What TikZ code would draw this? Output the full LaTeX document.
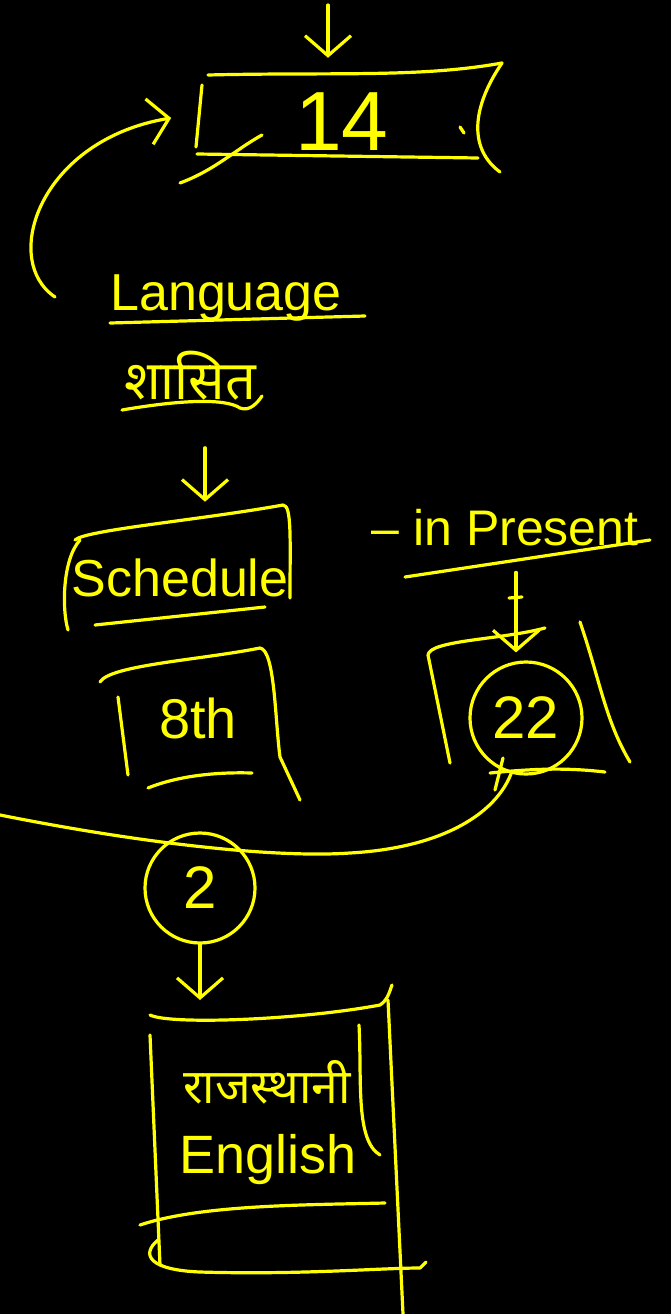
\documentclass[tikz,border=0pt]{standalone}
\usepackage{fontspec}
\setmainfont{Liberation Sans}
\newfontfamily\hindifont[Script=Devanagari]{Noto Sans}
\usetikzlibrary{arrows.meta}
\usetikzlibrary{positioning}
\definecolor{chalk}{RGB}{255,255,0}

\tikzset{
    ink/.style={draw=chalk, line width=3.2, line cap=round, line join=round},
    hand/.style={text=chalk, inner sep=2, font=\fontsize{50}{54}\selectfont},
    ring/.style={hand, draw=chalk, line width=3.2, circle},
}

\begin{document}
\begin{tikzpicture}[x=1pt, y=-1pt, >={Straight Barb[length=20, width=46]}]
    \fill[black] (0,0) rectangle (671,1314);
    \useasboundingbox (0,0) rectangle (671,1314);

    \node[minimum width=300, minimum height=84] (box14) at (345,114) {};
    \node[hand, font=\fontsize{84}{88}\selectfont] (fourteen) at (342,122) {14};
    \node[hand, font=\fontsize{52}{56}\selectfont] (language) at (226,298) {Language};
    \node[hand, font=\hindifont\fontsize{54}{58}\selectfont] (shasit) at (190,376) {शासित};
    \node[hand, font=\fontsize{52}{56}\selectfont] (schedule) at (180,578) {Schedule};
    \node[hand] (present) at (505,528) {– in Present};
    \node[hand, font=\fontsize{56}{60}\selectfont] (eighth) at (198,718) {8th};
    \node[ring, font=\fontsize{60}{64}\selectfont, minimum size=112] (twentytwo) at (526,718) {22};
    \node[ring, font=\fontsize{60}{64}\selectfont, minimum size=110] (two) at (200,888) {2};
    \node[hand, font=\hindifont\fontsize{48}{52}\selectfont] (rajasthani) at (267,1082) {राजस्थानी};
    \node[hand, font=\fontsize{54}{58}\selectfont] (english) at (268,1160) {English};

    \coordinate (topin) at (328,5);
    \coordinate (loopstart) at (55,297);
    \coordinate (leftend) at (0,815);
    \coordinate (boxtop) at (0,1000);

    % box round 14
    \draw[ink] (208,75) .. controls (330,72) and (420,78) .. (502,63);
    \draw[ink] (197,154) -- (478,158);
    \draw[ink] (202,85) -- (196,147);
    \draw[ink] (502,63) .. controls (470,110) and (470,150) .. (500,172);
    \draw[ink] (180,183) .. controls (215,170) and (235,150) .. (262,135);
    \draw[ink] (460,127) -- (464,133);

    % underlines
    \draw[ink] (110,323) -- (365,316);
    \draw[ink] (122,410) .. controls (180,400) and (225,398) .. (240,408) .. controls (250,412) and (258,402) .. (262,396);

    % schedule box
    \draw[ink] (75,540) .. controls (85,530) and (200,520) .. (283,505) .. controls (292,505) and (290,540) .. (290,598);
    \draw[ink] (80,540) .. controls (62,560) and (62,610) .. (68,630);
    \draw[ink] (95,625) -- (265,607);

    % in present
    \draw[ink] (405,577) -- (650,540);

    % 8th box
    \draw[ink] (100,682) .. controls (110,665) and (200,660) .. (260,648) .. controls (275,650) and (275,720) .. (280,757) -- (300,800);
    \draw[ink] (118,697) -- (128,775);
    \draw[ink] (148,788) .. controls (180,775) and (220,772) .. (252,773);

    % box round 22
    \draw[ink] (428,655) .. controls (430,640) and (500,640) .. (545,628);
    \draw[ink] (428,655) -- (450,763);
    \draw[ink] (580,622) .. controls (600,680) and (605,720) .. (630,762);
    \draw[ink] (490,773) .. controls (540,768) and (570,768) .. (605,772);
    \draw[ink] (503,758) -- (495,790);
    \draw[ink] (509,598) -- (522,597);

    % box round rajasthani
    \draw[ink] (150,1015) .. controls (170,1025) and (300,1020) .. (380,1005) .. controls (388,1000) and (390,990) .. (392,985);
    \draw[ink] (150,1035) -- (160,1265);
    \draw[ink] (388,1000) -- (403,1314);
    \draw[ink] (359,1025) .. controls (362,1080) and (355,1140) .. (380,1155);
    \draw[ink] (140,1225) .. controls (200,1205) and (300,1205) .. (385,1203);
    \draw[ink] (158,1240) .. controls (140,1255) and (150,1270) .. (200,1272) .. controls (300,1275) and (380,1268) .. (420,1268) -- (426,1262);

    % connectors
    \draw[ink, ->, shorten >=14] (topin) -- (topin |- box14.north);
    \draw[ink, ->, shorten >=24] (loopstart) .. controls (0,260) and (40,140) .. (box14.west);
    \draw[ink, ->] ([xshift=15, yshift=-45]shasit.south) -- ([xshift=25, yshift=55]schedule.north);
    \draw[ink, ->] ([xshift=-10, yshift=88]twentytwo.north) -- ([xshift=-10, yshift=8]twentytwo.north);
    \draw[ink] (leftend) .. controls (150,845) and (280,858) .. (350,853) .. controls (440,848) and (495,815) .. (twentytwo.-105);
    \draw[ink, ->] (two.south) -- (two.south |- boxtop);
\end{tikzpicture}
\end{document}
